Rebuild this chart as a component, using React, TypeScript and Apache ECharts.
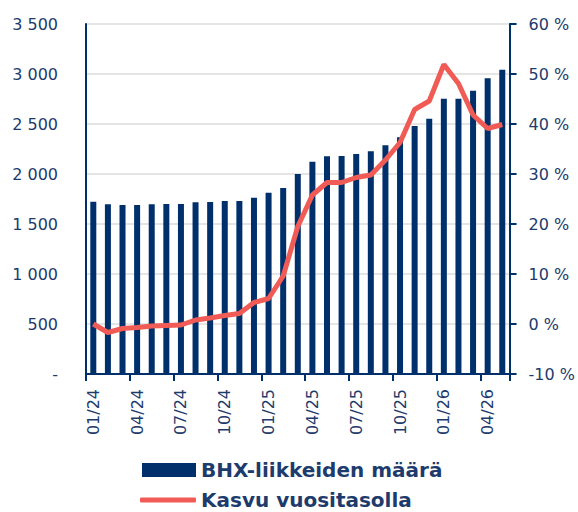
import React, { useEffect, useRef } from "react";
import * as echarts from "echarts";

const categories = [
  "01/24", "02/24", "03/24", "04/24", "05/24", "06/24", "07/24", "08/24", "09/24", "10/24", "11/24", "12/24",
  "01/25", "02/25", "03/25", "04/25", "05/25", "06/25", "07/25", "08/25", "09/25", "10/25", "11/25", "12/25",
  "01/26", "02/26", "03/26", "04/26", "05/26",
];
const movements = [
  1723, 1697, 1690, 1690, 1697, 1700, 1700, 1717, 1720, 1730, 1730, 1763,
  1813, 1860, 2000, 2123, 2177, 2180, 2200, 2227, 2287, 2367, 2480, 2553,
  2753, 2753, 2833, 2957, 3043,
];
const growth = [
  0.0, -1.7, -0.9, -0.7, -0.4, -0.3, -0.2, 0.8, 1.2, 1.7, 2.1, 4.3,
  5.1, 9.6, 19.5, 25.8, 28.3, 28.3, 29.3, 29.8, 32.8, 36.3, 42.9, 44.6,
  51.9, 48.1, 41.8, 39.1, 39.9,
];
const seriesNames = ["BHX-liikkeiden määrä", "Kasvu vuositasolla"];

const NAVY = "#00306b";
const TEXT = "#1d3b6c";
const RED = "#f05b55";
const FONT = "DejaVu Sans";

export default function App() {
  const ref = useRef<HTMLDivElement>(null);
  useEffect(() => {
    if (!ref.current) return;
    const chart = echarts.init(ref.current, null, { renderer: "svg" });
    const legendText = { color: TEXT, fontSize: 20, fontWeight: "bold", fontFamily: FONT, lineHeight: 18 };
    chart.setOption({
      animation: false,
      textStyle: { fontFamily: FONT },
      grid: { left: 86, right: 67, top: 24, bottom: 138, containLabel: false },
      legend: [
        {
          left: 142,
          top: 460,
          padding: 0,
          itemWidth: 54,
          itemHeight: 14,
          itemGap: 5,
          textStyle: legendText,
          data: [{ name: seriesNames[0], icon: "rect" }],
        },
        {
          left: 140,
          top: 490,
          padding: 0,
          itemWidth: 56,
          itemHeight: 5,
          textStyle: legendText,
          data: [{ name: seriesNames[1], icon: "roundRect", itemStyle: { color: RED } }],
        },
      ],
      xAxis: {
        type: "category",
        data: categories,
        boundaryGap: true,
        axisLine: { show: true, lineStyle: { color: NAVY, width: 2 } },
        axisTick: { show: true, interval: 2, length: 7, lineStyle: { color: NAVY, width: 2 } },
        axisLabel: { interval: 2, rotate: 90, margin: 15, color: TEXT, fontSize: 16, fontFamily: FONT },
      },
      yAxis: [
        {
          type: "value",
          min: 0,
          max: 3500,
          interval: 500,
          axisLine: { show: true, lineStyle: { color: NAVY, width: 2 } },
          axisTick: { show: false },
          splitLine: { show: true, lineStyle: { color: "#dcdcdc", width: 1.5 } },
          axisLabel: {
            color: TEXT,
            fontSize: 16,
            margin: 28,
            fontFamily: FONT,
            formatter: (v: number) => (v === 0 ? "-" : String(v).replace(/\B(?=(\d{3})+(?!\d))/g, " ")),
          },
        },
        {
          type: "value",
          min: -10,
          max: 60,
          interval: 10,
          position: "right",
          axisLine: { show: true, lineStyle: { color: NAVY, width: 2 } },
          axisTick: { show: true, length: 7, lineStyle: { color: NAVY, width: 2 } },
          splitLine: { show: false },
          axisLabel: {
            color: TEXT,
            fontSize: 16,
            margin: 19,
            fontFamily: FONT,
            formatter: (v: number) => String(v) + " %",
          },
        },
      ],
      series: [
        {
          name: seriesNames[0],
          type: "bar",
          data: movements,
          barWidth: 6,
          itemStyle: { color: NAVY },
          yAxisIndex: 0,
        },
        {
          name: seriesNames[1],
          type: "line",
          data: growth,
          yAxisIndex: 1,
          symbol: "none",
          lineStyle: { color: RED, width: 5 },
          itemStyle: { color: RED },
        },
      ],
    });
    return () => chart.dispose();
  }, []);
  return <div ref={ref} style={{ width: 578, height: 512, position: "absolute", left: 0, top: 0 }} />;
}
